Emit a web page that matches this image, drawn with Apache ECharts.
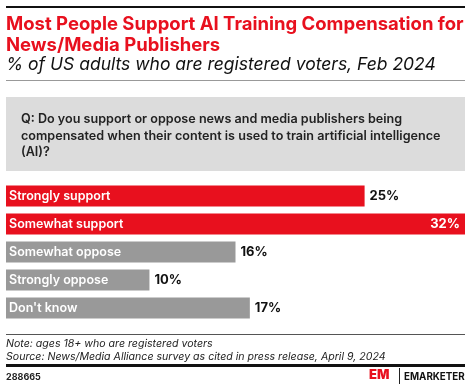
<!DOCTYPE html>
<html><head><meta charset="utf-8">
<script src="https://cdn.jsdelivr.net/npm/echarts@6/dist/echarts.min.js"></script>
<style>html,body{margin:0;padding:0;background:#fff}#c{width:470px;height:391px}</style>
</head><body><div id="c"></div>
<script>
const categories = ["Strongly support","Somewhat support","Somewhat oppose","Strongly oppose","Don't know"];
const values = [25, 32, 16, 10, 17];
const colors = ["#e8101e","#e8101e","#999999","#999999","#999999"];

const F = "Inter, 'Open Sans', sans-serif";
const chart = echarts.init(document.getElementById('c'), null, {renderer:'canvas'});
const data = values.map((v,i)=>({
  value:v,
  itemStyle:{color:colors[i]},
  label: v===Math.max(...values) ? {position:'insideRight', color:'#fff', distance:5} : {}
}));
chart.setOption({
  animation:false,
  grid:{left:6,right:5,top:182,height:140,containLabel:false},
  xAxis:{type:'value',min:0,max:32,show:false},
  yAxis:{type:'category',data:categories,inverse:true,show:false},
  series:[
    {type:'bar',data:data,barWidth:21,z:2,
     label:{show:true,position:'right',distance:5,formatter:'{c}%',fontFamily:F,fontWeight:'bold',fontSize:13,color:'#111'}},
    {type:'bar',data:values,barWidth:21,barGap:'-100%',z:3,itemStyle:{color:'rgba(0,0,0,0)'},
     label:{show:true,position:'insideLeft',distance:3,formatter:'{b}',fontFamily:F,fontWeight:600,fontSize:12.5,color:'#fff'},
     silent:true}
  ],
  graphic:[
    {type:'rect',shape:{x:6,y:6,width:459,height:2},style:{fill:'#111'}},
    {type:'text',left:6,top:14,style:{text:'Most People Support AI Training Compensation for\nNews/Media Publishers',fontFamily:F,fontWeight:'bold',fontSize:18.5,lineHeight:21,fill:'#e8101e'}},
    {type:'text',left:6,top:56,style:{text:'% of US adults who are registered voters, Feb 2024',fontFamily:F,fontStyle:'italic',fontSize:17.5,fill:'#111'}},
    {type:'rect',shape:{x:6,y:80,width:459,height:1},style:{fill:'#999'}},
    {type:'rect',shape:{x:6,y:97,width:459,height:74},style:{fill:'#dcdcdc'}},
    {type:'text',left:21,top:111,style:{text:'Q: Do you support or oppose news and media publishers being\ncompensated when their content is used to train artificial intelligence\n(AI)?',fontFamily:F,fontWeight:600,fontSize:12.6,lineHeight:16.5,fill:'#222'}},
    {type:'rect',shape:{x:6,y:334,width:459,height:1},style:{fill:'#555'}},
    {type:'text',left:6,top:337,style:{text:'Note: ages 18+ who are registered voters\nSource: News/Media Alliance survey as cited in press release, April 9, 2024',fontFamily:F,fontStyle:'italic',fontSize:10.6,lineHeight:13,fill:'#222'}},
    {type:'rect',shape:{x:6,y:364,width:459,height:3},style:{fill:'#111'}},
    {type:'text',left:6,top:373,style:{text:'288665',fontFamily:F,fontWeight:'bold',fontSize:9,fill:'#222'}},
    {type:'text',left:369,top:369,style:{text:'EM',fontFamily:F,fontWeight:900,fontSize:13,fill:'#e8101e'}},
    {type:'rect',shape:{x:399,y:368,width:1,height:16},style:{fill:'#222'}},
    {type:'text',left:404,top:372,style:{text:'EMARKETER',fontFamily:F,fontWeight:'bold',fontSize:9.8,fill:'#111'}}
  ]
});
</script></body></html>
